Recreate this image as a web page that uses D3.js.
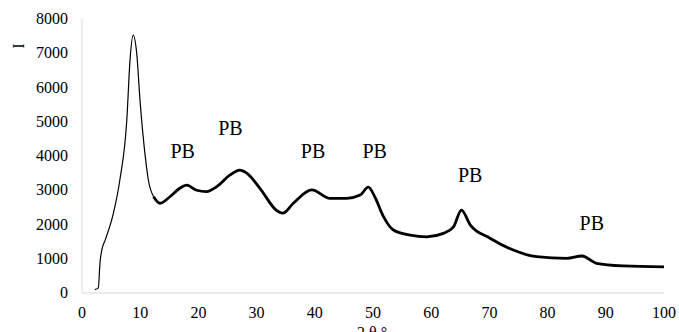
<!DOCTYPE html>
<html>
<head>
<meta charset="utf-8">
<script src="https://cdn.jsdelivr.net/npm/d3@7"></script>
<style>
  body { margin: 0; background: #fff; }
  svg text { font-family: 'Liberation Serif', 'Times New Roman', serif; fill: #000; }
</style>
</head>
<body>
<svg id="chart"></svg>
<script>
// ---- data ----
const twoTheta = [2.2, 2.8, 3.1, 3.4, 4.0, 5.4, 6.5, 7.7, 8.25, 8.8, 9.4, 10.0, 10.8, 11.4, 12.3, 13.4,
  15.1, 16.8, 18.0, 19.7, 21.4, 23.1, 25.4, 27.1, 28.3, 30.6, 33.5, 34.5, 36.3, 39.5, 42.6, 45.5,
  47.8, 49.2, 50.3, 51.8, 53.5, 56.4, 59.2, 62.1, 63.8, 65.2, 66.7, 70.1, 74.1, 78.1, 83.3, 85.9,
  88.4, 93.0, 100];
const intensity = [100, 150, 900, 1250, 1550, 2330, 3300, 5050, 6800, 7530, 7000, 5550, 4090, 3300, 2810, 2620,
  2810, 3060, 3150, 3000, 2960, 3100, 3440, 3590, 3500, 3050, 2400, 2330, 2620, 3010, 2765, 2765,
  2860, 3090, 2810, 2230, 1840, 1690, 1640, 1740, 1920, 2420, 1990, 1600, 1255, 1060, 1010, 1080,
  867, 790, 760];

const xTicks = [0, 10, 20, 30, 40, 50, 60, 70, 80, 90, 100];
const yTicks = [0, 1000, 2000, 3000, 4000, 5000, 6000, 7000, 8000];

const labelText = ['PB', 'PB', 'PB', 'PB', 'PB', 'PB'];
const labelX = [17.3, 25.5, 39.7, 50.3, 66.7, 87.6];
const labelY = [3940, 4610, 3940, 3940, 3240, 1825];

// ---- layout ----
const width = 679, height = 332;
const margin = { left: 82, right: 15, top: 19, bottom: 39 };

const svg = d3.select('#chart').attr('width', width).attr('height', height);

const x = d3.scaleLinear().domain([0, 100]).range([margin.left, width - margin.right]);
const y = d3.scaleLinear().domain([0, 8000]).range([height - margin.bottom, margin.top]);

//-------axes lines (light gray, no ticks)
svg.append('line')
  .attr('x1', x(0)).attr('x2', x(0))
  .attr('y1', y(8000)).attr('y2', y(0))
  .attr('stroke', '#d9d9d9');
svg.append('line')
  .attr('x1', x(0)).attr('x2', x(100))
  .attr('y1', y(0)).attr('y2', y(0))
  .attr('stroke', '#d9d9d9');

//-------tick labels
svg.selectAll('.ytick')
  .data(yTicks)
  .enter().append('text')
  .attr('class', 'ytick')
  .attr('x', 68)
  .attr('y', d => y(d) + 5)
  .attr('text-anchor', 'end')
  .style('font-size', '16px')
  .text(d => d);

svg.selectAll('.xtick')
  .data(xTicks)
  .enter().append('text')
  .attr('class', 'xtick')
  .attr('x', d => x(d))
  .attr('y', y(0) + 25)
  .attr('text-anchor', 'middle')
  .style('font-size', '16px')
  .text(d => d);

//-------axis titles
svg.append('text')
  .attr('transform', 'translate(24,46) rotate(-90)')
  .attr('text-anchor', 'middle')
  .style('font-size', '16px')
  .text('I');

// sits on the bottom edge, cut off like in the original
svg.append('text')
  .attr('x', 372)
  .attr('y', 338)
  .attr('text-anchor', 'middle')
  .style('font-size', '16px')
  .text('2 θ °');

//-------curve: thin rising part, thick noisy-looking part after the main peak
const pts = twoTheta.map((t, i) => [t, intensity[i]]);
const line = d3.line()
  .x(d => x(d[0]))
  .y(d => y(d[1]))
  .curve(d3.curveMonotoneX);

svg.append('path')
  .datum(pts.filter(d => d[0] <= 12.3))
  .attr('d', line)
  .attr('fill', 'none')
  .attr('stroke', '#000')
  .attr('stroke-width', 1.2);

svg.append('path')
  .datum(pts.filter(d => d[0] >= 12.3))
  .attr('d', line)
  .attr('fill', 'none')
  .attr('stroke', '#000')
  .attr('stroke-width', 2.8)
  .attr('stroke-linejoin', 'round');

//-------PB annotations
svg.selectAll('.pb')
  .data(labelText)
  .enter().append('text')
  .attr('class', 'pb')
  .attr('x', (d, i) => x(labelX[i]))
  .attr('y', (d, i) => y(labelY[i]))
  .attr('text-anchor', 'middle')
  .style('font-size', '20px')
  .text(d => d);
</script>
</body>
</html>
